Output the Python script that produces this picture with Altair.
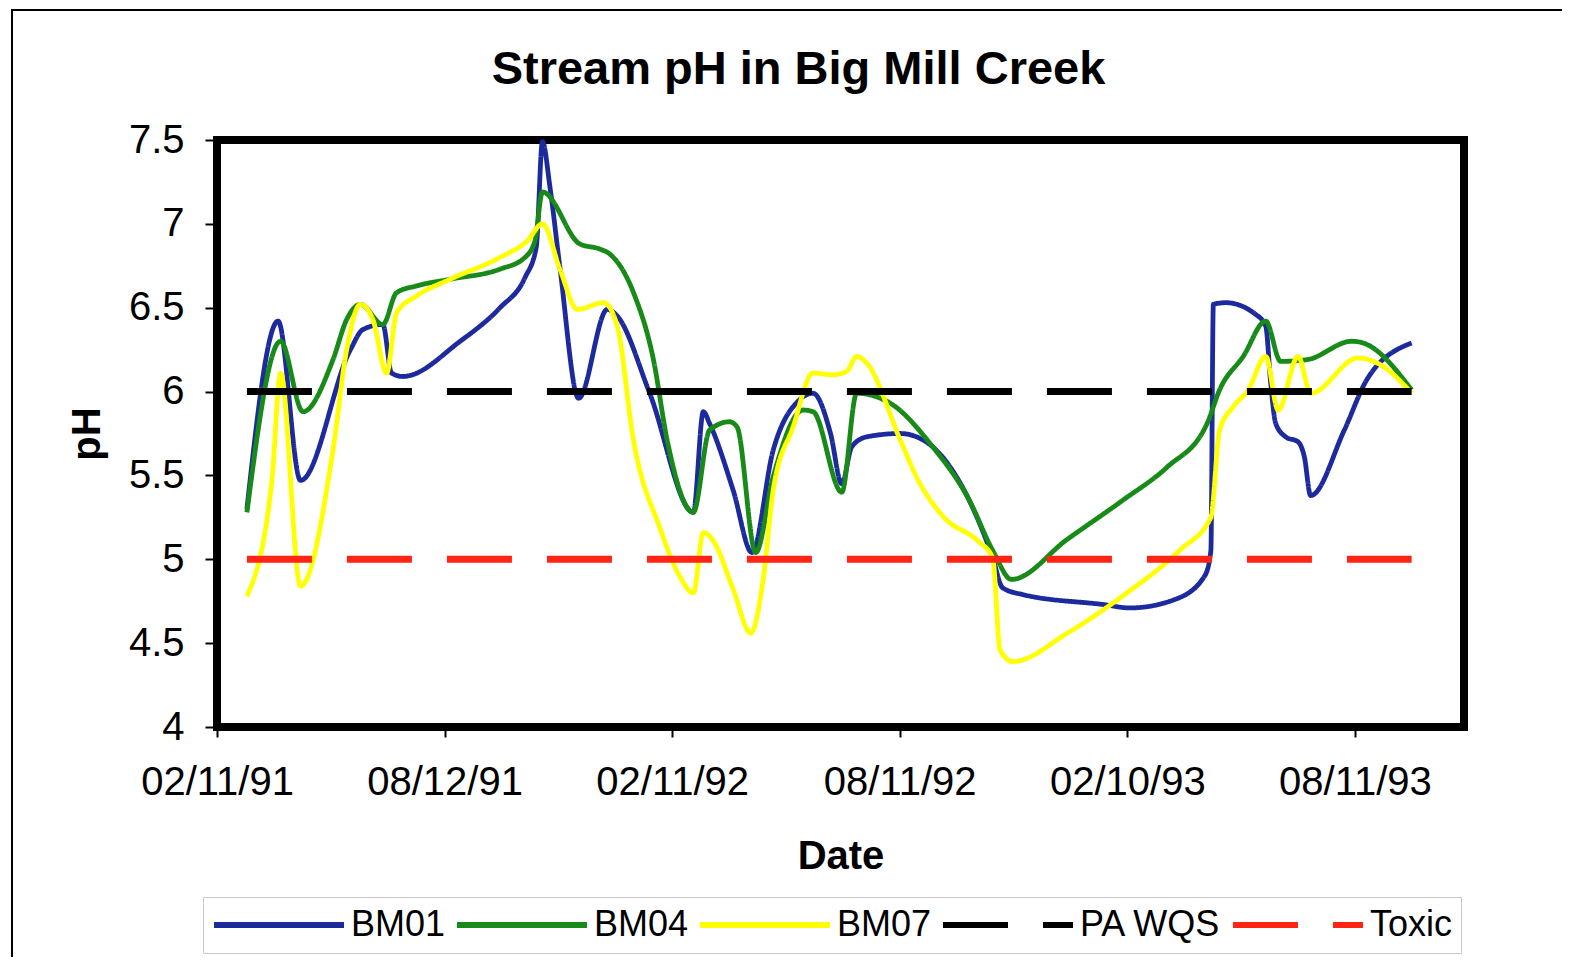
import altair as alt
import pandas as pd

# Days are counted from 02/11/91 (day 0)
series_names = ["BM01", "BM04", "BM07"]

bm01_days = [24, 49, 67, 107, 117, 133, 140, 149, 195, 227, 247, 256, 261, 267, 275, 290, 313, 321, 347,
             382, 390, 395, 414, 429, 446, 467, 478, 492, 501, 509, 521, 548, 561, 574, 602, 622, 630, 646,
             711, 732, 768, 792, 797, 799, 809, 833, 841, 845, 849, 857, 867, 872, 877, 904, 922, 958]
bm01_ph = [5.30, 6.42, 5.47, 6.25, 6.37, 6.40, 6.11, 6.09, 6.30, 6.50, 6.68, 6.86, 7.49, 7.22, 6.74, 5.96, 6.49, 6.45, 5.99,
           5.28, 5.88, 5.81, 5.41, 5.04, 5.65, 5.95, 5.99, 5.75, 5.45, 5.67, 5.73, 5.75, 5.73, 5.67, 5.37, 5.01, 4.83, 4.79,
           4.73, 4.71, 4.76, 4.90, 5.05, 6.52, 6.53, 6.46, 6.39, 6.05, 5.81, 5.73, 5.70, 5.61, 5.38, 5.77, 6.07, 6.29]

bm04_days = [24, 51, 69, 93, 104, 115, 133, 144, 160, 187, 227, 247, 255, 261, 291, 307, 315, 334, 350, 361,
             382, 395, 411, 417, 432, 446, 470, 478, 501, 513, 540, 574, 602, 623, 637, 682, 726, 762, 794,
             804, 823, 841, 853, 874, 910, 919, 958]
bm04_ph = [5.28, 6.30, 5.88, 6.19, 6.43, 6.52, 6.40, 6.59, 6.63, 6.67, 6.73, 6.80, 6.90, 7.19, 6.88, 6.85, 6.82, 6.59, 6.19, 5.71,
           5.28, 5.77, 5.82, 5.79, 5.04, 5.49, 5.89, 5.88, 5.40, 5.99, 5.93, 5.67, 5.37, 5.04, 4.88, 5.12, 5.35, 5.55, 5.81,
           6.01, 6.21, 6.42, 6.18, 6.19, 6.30, 6.29, 6.01]

bm07_days = [24, 44, 51, 67, 93, 104, 115, 125, 136, 144, 160, 187, 227, 249, 261, 275, 289, 310, 321, 334, 355, 371,
             382, 390, 398, 414, 428, 438, 446, 462, 478, 494, 505, 513, 521, 548, 561, 583, 610, 622, 628, 638,
             682, 726, 773, 797, 804, 815, 827, 841, 851, 867, 877, 915, 933, 958]
bm07_ph = [4.78, 5.47, 6.11, 4.84, 5.65, 6.25, 6.52, 6.43, 6.11, 6.47, 6.57, 6.67, 6.80, 6.90, 7.00, 6.73, 6.49, 6.53, 6.39, 5.71, 5.19, 4.90,
           4.80, 5.16, 5.11, 4.82, 4.56, 4.88, 5.41, 5.79, 6.11, 6.10, 6.12, 6.21, 6.17, 5.71, 5.49, 5.25, 5.11, 5.01, 4.46, 4.39,
           4.56, 4.78, 5.06, 5.25, 5.77, 5.91, 6.01, 6.21, 5.89, 6.21, 5.99, 6.20, 6.16, 5.99]

threshold_names = ["PA WQS", "Toxic"]
threshold_ph = [6.0, 5.0]
threshold_span_days = [24, 958]

x_tick_days = [0, 182.5, 365, 547.5, 730, 912.5]
y_ticks = [4, 4.5, 5, 5.5, 6, 6.5, 7, 7.5]

legend_order = ["BM01", "BM04", "BM07", "PA WQS", "Toxic"]
legend_colors = ["#1c2a9e", "#178a17", "#ffff00", "#000000", "#ff2414"]
legend_dashes = [[1, 0], [1, 0], [1, 0], [65, 35], [65, 35]]

rows = []
for name, days, ph in zip(series_names, [bm01_days, bm04_days, bm07_days], [bm01_ph, bm04_ph, bm07_ph]):
    for d, p in zip(days, ph):
        rows.append({"series": name, "day": d, "ph": p})
series_df = pd.DataFrame(rows)

thr_rows = []
for name, v in zip(threshold_names, threshold_ph):
    for d in threshold_span_days:
        thr_rows.append({"series": name, "day": d, "ph": v})
thr_df = pd.DataFrame(thr_rows)

FONT = "Liberation Sans"

legend = alt.Legend(
    title=None, orient="none", legendX=-14, legendY=757, direction="horizontal", columns=5,
    padding=8, strokeColor="#c8c8c8", fillColor="white", labelFont=FONT, labelFontSize=36,
    labelColor="black", labelOffset=4, columnPadding=8, symbolType="stroke",
    symbolStrokeWidth=6, symbolSize=16900, symbolOpacity=1, clipHeight=40,
)

x_enc = alt.X(
    "day:Q",
    scale=alt.Scale(domain=[0, 1000], nice=False, zero=False),
    axis=alt.Axis(
        values=x_tick_days,
        labelExpr="utcFormat(utc(1991, 1, 11) + datum.value * 86400000, '%m/%d/%y')",
        title="Date", titleFont=FONT, titleFontSize=40, titleFontWeight="bold", titleColor="black",
        titleY=141, titleBaseline="alphabetic",
        labelFont=FONT, labelFontSize=40, labelColor="black", labelPadding=25, labelFlush=False,
        labelOverlap=False, tickSize=10, tickWidth=2, tickColor="black", domain=False, grid=False,
    ),
)
y_enc = alt.Y(
    "ph:Q",
    scale=alt.Scale(domain=[4, 7.5], nice=False, zero=False),
    axis=alt.Axis(
        values=y_ticks, format="~g",
        title="pH", titleFont=FONT, titleFontSize=40, titleFontWeight="bold", titleColor="black",
        titleX=-130, titleY=293.5, titleBaseline="middle", titleAlign="center", titleAngle=-90,
        labelFont=FONT, labelFontSize=40, labelColor="black", labelPadding=21, labelFlush=False,
        labelOverlap=False, tickSize=12, tickWidth=2, tickColor="black", domain=False, grid=False,
    ),
)
color_enc = alt.Color("series:N", scale=alt.Scale(domain=legend_order, range=legend_colors), legend=legend)
dash_enc = alt.StrokeDash("series:N", scale=alt.Scale(domain=legend_order, range=legend_dashes), legend=legend)

lines = alt.Chart(series_df).mark_line(strokeWidth=4.8, interpolate="monotone").encode(
    x=x_enc, y=y_enc, color=color_enc, strokeDash=dash_enc,
    order=alt.Order("day:Q"),
)
thresholds = alt.Chart(thr_df).mark_line(strokeWidth=7, strokeCap="butt").encode(
    x="day:Q", y="ph:Q", color=color_enc, strokeDash=dash_enc,
)

frame = alt.Chart(pd.DataFrame({"k": [0]})).mark_rect(fill=None, stroke="black", strokeWidth=2).encode(
    x=alt.value(-205), x2=alt.value(1400), y=alt.value(-130), y2=alt.value(900)
)

chart = alt.layer(lines, thresholds, frame).properties(
    width=1247, height=587,
    title=alt.TitleParams("Stream pH in Big Mill Creek", font=FONT, fontSize=47, fontWeight="bold",
                          color="black", anchor="middle", dx=-42, offset=-85),
    autosize=alt.AutoSizeParams(type="none"),
    padding={"left": 209, "top": 132, "right": 98, "bottom": 230},
).configure(background="white").configure_view(stroke="black", strokeWidth=8)

chart.save("out.html", embed_options={"renderer": "svg", "actions": False})
